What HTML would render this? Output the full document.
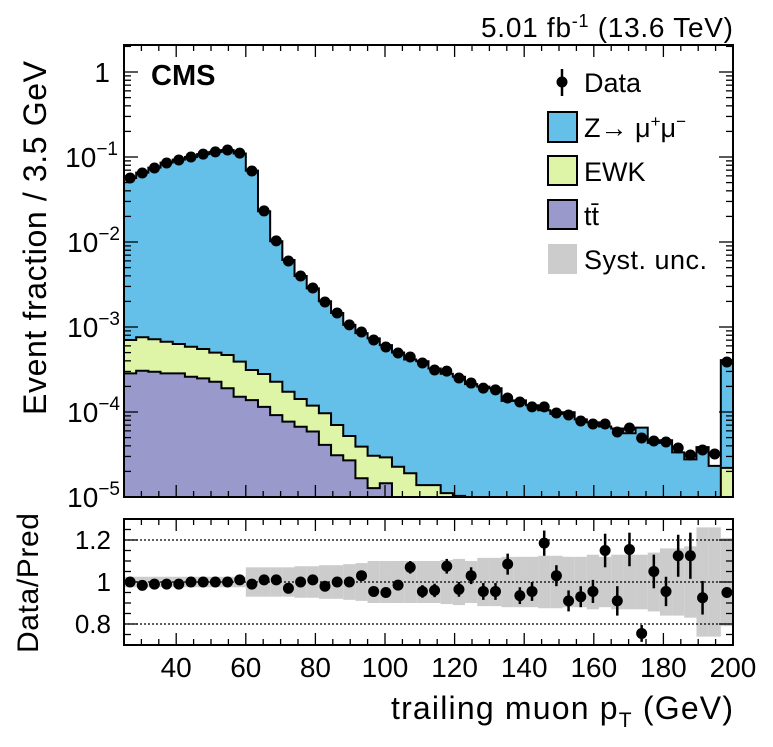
<!DOCTYPE html>
<html><head><meta charset="utf-8"><style>
body{margin:0;background:#fff;}
svg text{font-family:"Liberation Sans",Arial,sans-serif;fill:#000;}
</style></head><body>
<svg id="c" width="773" height="742" viewBox="0 0 773 742" xmlns="http://www.w3.org/2000/svg">
<defs>
<clipPath id="mainClip"><rect x="124" y="45" width="609" height="452"/></clipPath>
<clipPath id="ratClip"><rect x="124" y="519" width="609" height="126"/></clipPath>
</defs>
<g id="mainG"></g>
<g id="ratG"></g>
<text x="733" y="37" font-size="28" text-anchor="end" textLength="252">5.01 fb<tspan dy="-10" font-size="18">-1</tspan><tspan dy="10"> (13.6 TeV)</tspan></text>
<text x="151" y="85" font-size="29" font-weight="bold">CMS</text>
<text transform="translate(46,238) rotate(-90)" font-size="32" text-anchor="middle" textLength="354">Event fraction / 3.5 GeV</text>
<text transform="translate(38,583) rotate(-90)" font-size="30" text-anchor="middle" textLength="140">Data/Pred</text>
<text x="733" y="719" font-size="32" text-anchor="end" textLength="342">trailing muon p<tspan dy="8" font-size="21">T</tspan><tspan dy="-8"> (GeV)</tspan></text>
<g>
<g><line x1="562" y1="69" x2="562" y2="96" stroke="#000" stroke-width="2.5"/><circle cx="562" cy="82" r="5.5"/><text x="584" y="92" font-size="27">Data</text></g>
<g><rect x="548" y="112" width="29" height="30" fill="#64c0e8" stroke="#000" stroke-width="2"/><text x="584" y="137" font-size="27">Z→ μ<tspan dy="-10" font-size="17">+</tspan><tspan dy="10">μ</tspan><tspan dy="-10" font-size="17">−</tspan></text></g>
<g><rect x="548" y="156" width="29" height="29" fill="#def5a8" stroke="#000" stroke-width="2"/><text x="584" y="181" font-size="27">EWK</text></g>
<g><rect x="548" y="200" width="29" height="29" fill="#9999cc" stroke="#000" stroke-width="2"/><text x="584" y="225" font-size="27">tt̄</text></g>
<g><rect x="548" y="244" width="29" height="30" fill="#cccccc"/><text x="584" y="269" font-size="27" textLength="123">Syst. unc.</text></g>
</g>
</svg>
<script>
const binEdgesStart = 25, binWidth = 3.5;
const dataVals = [0.0566,0.0649,0.0743,0.085,0.0922,0.1,0.108,0.115,0.121,0.111,0.0685,0.0232,0.0103,0.00597,0.00398,0.00288,0.00197,0.00146,0.00106,0.000873,0.000703,0.000582,0.000494,0.000444,0.000377,0.000312,0.000303,0.000251,0.000219,0.000191,0.000182,0.000146,0.000131,0.000115,0.000115,0.0000973,0.0000922,0.0000783,0.0000722,0.0000722,0.0000582,0.0000649,0.0000494,0.0000456,0.0000444,0.0000377,0.0000312,0.0000357,0.0000321,0.000387];
const predTotal = [0.0566,0.0655,0.075,0.0858,0.0931,0.1,0.108,0.115,0.121,0.11,0.0692,0.023,0.0102,0.00615,0.00398,0.00285,0.00201,0.00146,0.00106,0.000848,0.000736,0.000613,0.000501,0.000415,0.000395,0.000325,0.000282,0.00026,0.000213,0.000199,0.00019,0.000135,0.000137,0.00012,0.000105,0.000095,0.0000992,0.0000818,0.0000755,0.0000675,0.0000639,0.0000562,0.0000654,0.0000434,0.0000465,0.0000335,0.0000277,0.0000386,0.0000232,0.000407];
const ewkVals = [4.18e-4,4.51e-4,4.19e-4,3.86e-4,3.46e-4,3.26e-4,3.02e-4,2.72e-4,2.79e-4,2.40e-4,1.74e-4,1.65e-4,1.35e-4,0.96e-4,0.75e-4,0.60e-4,0.556e-4,0.393e-4,0.252e-4,0.225e-4,0.179e-4,0.148e-4,2.27e-5,1.90e-5,1.38e-5,1.38e-5,1.11e-5,1.03e-5,3e-6,3e-6,3e-6,3e-6,3e-6,3e-6,3e-6,3e-6,3e-6,3e-6,3e-6,3e-6,3e-6,3e-6,3e-6,3e-6,3e-6,3e-6,3e-6,3e-6,3e-6,2.2e-5];
const ttVals = [2.85e-4,3.06e-4,2.98e-4,2.85e-4,2.85e-4,2.60e-4,2.49e-4,2.27e-4,1.90e-4,1.51e-4,1.38e-4,1.15e-4,9.2e-5,7.7e-5,6.7e-5,5.9e-5,4.1e-5,3.1e-5,2.7e-5,1.66e-5,1.27e-5,1.45e-5,0,0,0,0,0,0,0,0,0,0,0,0,0,0,0,0,0,0,0,0,0,0,0,0,0,0,0,0];
const ratioVals = [1.0,0.984,0.99,0.99,0.99,1.0,1.0,1.0,1.0,1.01,0.99,1.01,1.01,0.97,1.0,1.01,0.98,1.0,1.0,1.03,0.955,0.95,0.985,1.07,0.955,0.96,1.075,0.965,1.03,0.955,0.955,1.085,0.935,0.955,1.185,1.03,0.91,0.93,0.955,1.15,0.91,1.155,0.755,1.05,0.955,1.125,1.125,0.925,null,0.95];
const ratioErr = [0.005,0.005,0.005,0.005,0.005,0.005,0.005,0.005,0.005,0.005,0.006,0.008,0.01,0.012,0.013,0.014,0.015,0.016,0.017,0.02,0.02,0.022,0.025,0.03,0.03,0.032,0.035,0.035,0.04,0.04,0.04,0.05,0.04,0.045,0.06,0.05,0.05,0.05,0.055,0.08,0.07,0.08,0.04,0.08,0.07,0.1,0.11,0.08,0,0.02];
const systUnc = [0.025,0.025,0.025,0.025,0.025,0.025,0.025,0.025,0.025,0.025,0.07,0.07,0.07,0.07,0.075,0.075,0.08,0.08,0.085,0.09,0.1,0.1,0.1,0.1,0.1,0.1,0.105,0.11,0.1,0.115,0.115,0.12,0.12,0.12,0.125,0.125,0.12,0.12,0.13,0.12,0.13,0.13,0.13,0.14,0.16,0.16,0.17,0.26,0.26,0.21];
const xTicks = [40,60,80,100,120,140,160,180,200];
const yDecades = [-5,-4,-3,-2,-1,0];
const ratioTicks = [0.8,1,1.2];

const NS='http://www.w3.org/2000/svg';
const X0=124,X1=733,Y0=45,Y1=497,RY0=519,RY1=645;
const xs=v=>X0+(v-25)*(X1-X0)/175;
const ys=v=>{const l=Math.log10(Math.max(v,1e-7));return Y1-(l+5)*85;};
const ry=r=>582-(r-1)*210;
function mk(tag,attrs,parent){const e=document.createElementNS(NS,tag);for(const k in attrs)e.setAttribute(k,attrs[k]);parent.appendChild(e);return e;}
const mainG=document.getElementById('mainG'),ratG=document.getElementById('ratG');
const n=dataVals.length;
const lo=i=>binEdgesStart+i*binWidth, hi=i=>binEdgesStart+(i+1)*binWidth;
function stepPath(vals,closed){let d='';for(let i=0;i<n;i++){const y=ys(vals[i]);d+=(i==0?'M':'L')+xs(lo(i))+','+y+'L'+xs(hi(i))+','+y;}if(closed)d+='L'+X1+','+(Y1+5)+'L'+X0+','+(Y1+5)+'Z';return d;}
const clipG=mk('g',{'clip-path':'url(#mainClip)'},mainG);
const sumET=ewkVals.map((v,i)=>v+ttVals[i]);
const zArea=mk('path',{d:stepPath(predTotal,true),fill:'#64c0e8'},clipG);


const eArea=mk('path',{d:stepPath(sumET,true),fill:'#def5a8'},clipG);


const tArea=mk('path',{d:stepPath(ttVals,true),fill:'#9999cc'},clipG);


[predTotal,sumET,ttVals].forEach(v=>{const l=mk('path',{d:stepPath(v,false),fill:'none',stroke:'#000','stroke-width':2},clipG);

});
for(let i=0;i<n;i++){const cx=xs((lo(i)+hi(i))/2),cy=ys(dataVals[i]);
const c=mk('circle',{cx:cx,cy:cy,r:5.5,fill:'#000'},clipG);

}
mk('rect',{x:X0,y:Y0,width:X1-X0,height:Y1-Y0,fill:'none',stroke:'#000','stroke-width':2},mainG);
function xTickMarks(g,yb,yt){for(let v=25;v<=200;v+=5){const big=v%20==0;const L=big?12:6;const x=xs(v);
mk('line',{x1:x,y1:yb,x2:x,y2:yb-L,stroke:'#000','stroke-width':1.3},g);mk('line',{x1:x,y1:yt,x2:x,y2:yt+L,stroke:'#000','stroke-width':1.3},g);}}
xTickMarks(mainG,Y1,Y0);
for(const d of yDecades){for(let m=1;m<10;m++){const v=m*Math.pow(10,d);const y=ys(v);if(y<Y0)continue;const L=m==1?14:7;
mk('line',{x1:X0,y1:y,x2:X0+L,y2:y,stroke:'#000','stroke-width':1.3},mainG);mk('line',{x1:X1,y1:y,x2:X1-L,y2:y,stroke:'#000','stroke-width':1.3},mainG);}
const t=mk('text',{x:114,y:ys(Math.pow(10,d))+10,'font-size':28,'text-anchor':'end'},mainG);


if(d==0){t.textContent='1';t.setAttribute('x',110);}else{t.textContent='10';const s=mk('tspan',{dy:-12,'font-size':19},t);s.textContent=String(d).replace('-','−');t.setAttribute('x',d==-1?118:120);}}
const rclip=mk('g',{'clip-path':'url(#ratClip)'},ratG);
for(let i=0;i<n;i++){const u=systUnc[i];const b=mk('rect',{x:xs(lo(i)),y:ry(1+u),width:xs(hi(i))-xs(lo(i)),height:ry(1-u)-ry(1+u),fill:'#cccccc'},rclip);

}
for(const r of [0.8,1,1.2]){mk('line',{x1:X0,y1:ry(r),x2:X1,y2:ry(r),stroke:'#000','stroke-width':1.2,'stroke-dasharray':'2,2'},rclip);}
for(let i=0;i<n;i++){if(ratioVals[i]==null)continue;const cx=xs((lo(i)+hi(i))/2);
mk('line',{x1:cx,y1:ry(ratioVals[i]+ratioErr[i]),x2:cx,y2:ry(ratioVals[i]-ratioErr[i]),stroke:'#000','stroke-width':2.5},rclip);
const c=mk('circle',{cx:cx,cy:ry(ratioVals[i]),r:5.5,fill:'#000'},rclip);

}
mk('rect',{x:X0,y:RY0,width:X1-X0,height:RY1-RY0,fill:'none',stroke:'#000','stroke-width':2},ratG);
xTickMarks(ratG,RY1,RY0);
for(let k=0;k<=12;k++){const r=0.7+k*0.05;const y=ry(r);const big=Math.abs(r-0.8)<1e-6||Math.abs(r-1)<1e-6||Math.abs(r-1.2)<1e-6;const L=big?14:7;
mk('line',{x1:X0,y1:y,x2:X0+L,y2:y,stroke:'#000','stroke-width':1.3},ratG);mk('line',{x1:X1,y1:y,x2:X1-L,y2:y,stroke:'#000','stroke-width':1.3},ratG);}
for(const r of ratioTicks){const t=mk('text',{x:111,y:ry(r)+9,'font-size':26,'text-anchor':'end'},ratG);t.textContent=String(r);

}
for(const v of xTicks){const t=mk('text',{x:xs(v),y:677,'font-size':28,'text-anchor':'middle'},ratG);t.textContent=v;

}
</script>
</body></html>
